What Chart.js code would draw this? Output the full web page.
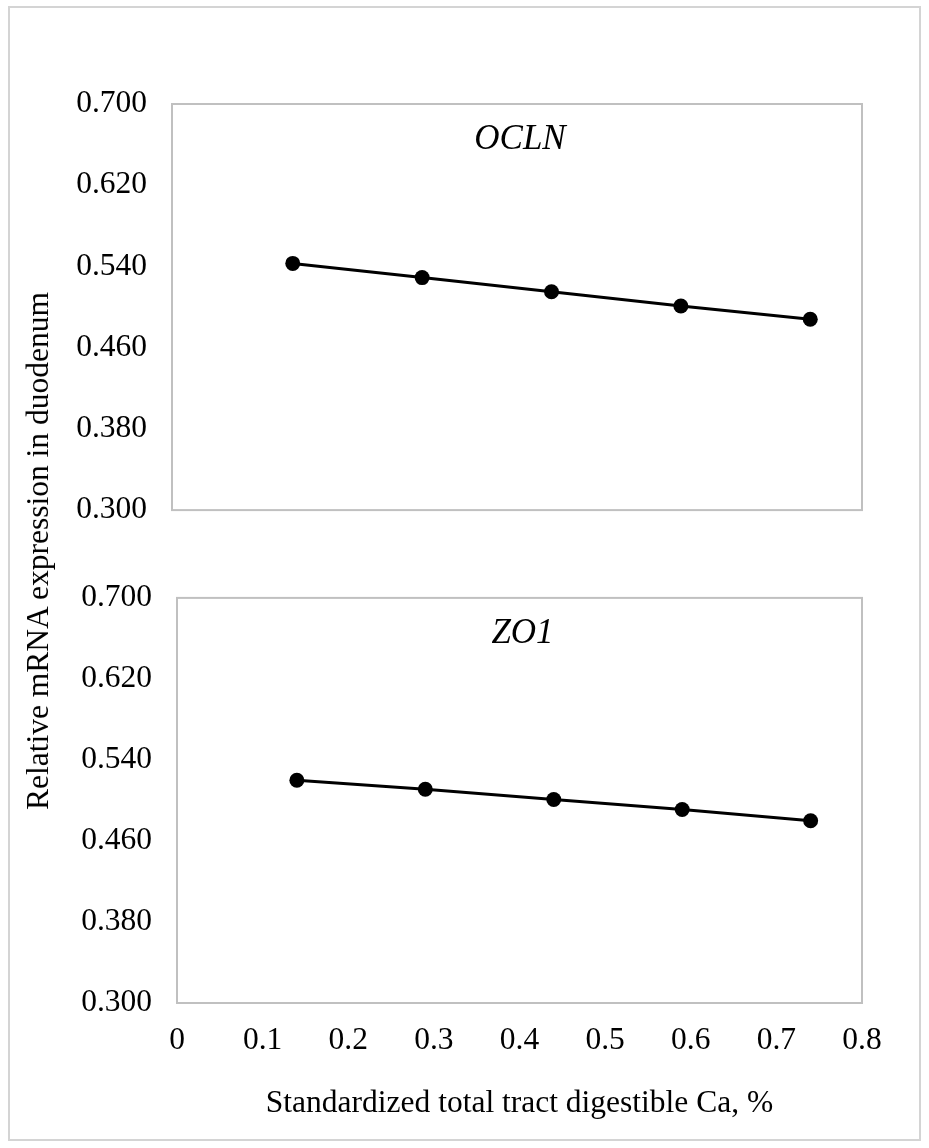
<!DOCTYPE html>
<html>
<head>
<meta charset="utf-8">
<script src="https://cdn.jsdelivr.net/npm/chart.js@4/dist/chart.umd.min.js"></script>
<style>
  body { margin: 0; background: #fff; }
  #page { position: relative; width: 929px; height: 1148px; overflow: hidden; }
  #frame { position: absolute; left: 8px; top: 6px; width: 913px; height: 1135px; box-sizing: border-box; border: 2px solid #d4d4d4; }
  .panel { position: absolute; left: 0; }
  #ylab { position: absolute; left: 38px; top: 551px; transform: translate(-50%, -50%) rotate(-90deg);
          font-family: "Liberation Serif", serif; font-size: 31.5px; white-space: nowrap; color: #000; }
</style>
</head>
<body>
<div id="page">
  <div id="frame"></div>
  <div class="panel" style="top:0"><canvas id="top" width="929" height="554"></canvas></div>
  <div class="panel" style="top:554px"><canvas id="bottom" width="929" height="594"></canvas></div>
  <div id="ylab">Relative mRNA expression in duodenum</div>
</div>
<script>
// data
const caLevels = [0.14, 0.29, 0.44, 0.59, 0.74];
const oclnValues = [0.543, 0.529, 0.515, 0.501, 0.488];
const zo1Values = [0.520, 0.511, 0.501, 0.491, 0.480];
const yTicks = [0.300, 0.380, 0.460, 0.540, 0.620, 0.700];
const xTicks = [0, 0.1, 0.2, 0.3, 0.4, 0.5, 0.6, 0.7, 0.8];
const panelTitles = ['OCLN', 'ZO1'];
const xTitle = 'Standardized total tract digestible Ca, %';

const serif = '"Liberation Serif", "Times New Roman", serif';

// box around plot area + italic gene name inside
const panelDeco = {
  id: 'panelDeco',
  beforeDatasetsDraw(chart) {
    const a = chart.chartArea, ctx = chart.ctx;
    ctx.save();
    ctx.strokeStyle = '#c0c0c0';
    ctx.lineWidth = 2;
    ctx.strokeRect(a.left, a.top, a.right - a.left, a.bottom - a.top);
    ctx.restore();
  },
  afterDraw(chart, args, opts) {
    const a = chart.chartArea, ctx = chart.ctx;
    ctx.save();
    ctx.font = 'italic 35px ' + serif;
    ctx.fillStyle = '#000';
    ctx.textAlign = 'center';
    ctx.textBaseline = 'middle';
    ctx.fillText(opts.text, (a.left + a.right) / 2 + 3, a.top + 36);
    ctx.restore();
  }
};

function makePanel(id, values, title, showX, yWidth, pad) {
  return new Chart(document.getElementById(id), {
    type: 'line',
    data: {
      datasets: [{
        data: caLevels.map((x, i) => ({ x: x, y: values[i] })),
        borderColor: '#000',
        borderWidth: 3,
        pointRadius: 7.5,
        pointBorderWidth: 0,
        pointBackgroundColor: '#000',
        fill: false,
        tension: 0
      }]
    },
    options: {
      responsive: false,
      animation: false,
      devicePixelRatio: 1,
      layout: { padding: pad },
      plugins: {
        legend: { display: false },
        tooltip: { enabled: false },
        panelDeco: { text: title }
      },
      scales: {
        x: {
          type: 'linear',
          min: 0,
          max: 0.8,
          display: showX,
          afterBuildTicks: s => { s.ticks = xTicks.map(v => ({ value: v })); },
          afterFit: s => { if (showX) s.height = 125; },
          grid: { display: false, drawTicks: false },
          border: { display: false },
          ticks: {
            padding: 19,
            color: '#000',
            font: { family: serif, size: 31.5 },
            maxRotation: 0,
            callback: v => String(v)
          },
          title: {
            display: showX,
            text: xTitle,
            color: '#000',
            font: { family: serif, size: 31.5 },
            padding: { top: 0, bottom: 5 }
          }
        },
        y: {
          min: 0.3,
          max: 0.7,
          afterBuildTicks: s => { s.ticks = yTicks.map(v => ({ value: v })); },
          afterFit: s => { s.width = yWidth; },
          grid: { display: false, drawTicks: false },
          border: { display: false },
          ticks: {
            padding: 25,
            color: '#000',
            font: { family: serif, size: 31.5 },
            callback: v => Number(v).toFixed(3)
          }
        }
      }
    },
    plugins: [panelDeco]
  });
}

// y tick padding already reserves ~44px above/below the plot
makePanel('top', oclnValues, panelTitles[0], false, 172, { top: 104, right: 67, bottom: 0, left: 0 });
makePanel('bottom', zo1Values, panelTitles[1], true, 177, { top: 0, right: 67, bottom: 20, left: 0 });
</script>
</body>
</html>
